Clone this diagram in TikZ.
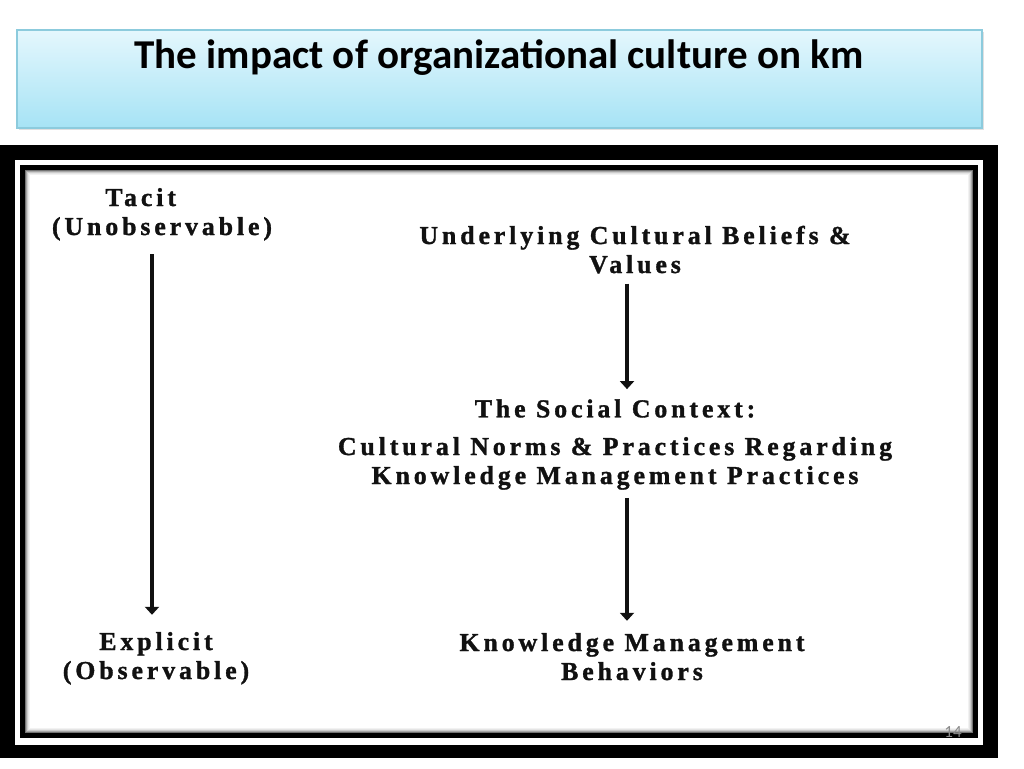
\documentclass[tikz,border=0pt]{standalone}
\usepackage{fontspec}
\usetikzlibrary{arrows.meta}
\newfontfamily\titlefont{Carlito}
\newfontfamily\diagfont{Liberation Serif}[LetterSpace=15,FakeBold=1.2]
\definecolor{boxtop}{HTML}{E4F7FD}
\definecolor{boxbot}{HTML}{A6E3F5}
\definecolor{boxline}{HTML}{8CCBDD}
\definecolor{ink}{HTML}{111111}
\definecolor{pagenum}{HTML}{8A8A8A}
\begin{document}
\begin{tikzpicture}[x=0.75pt,y=-0.75pt,
  lbl/.style={font=\diagfont\bfseries\fontsize{19.4pt}{21.75pt}\selectfont, text=ink, align=center, inner sep=0pt, anchor=base},
  arr/.style={line width=3.6pt, -{Triangle[width=10.5pt,length=6pt]}, draw=ink}]
\useasboundingbox (0,0) rectangle (1024,768);
% title box
\fill[black!12] (19,32) rectangle (984,130);
\shade[top color=boxtop,bottom color=boxbot,draw=boxline,line width=0.9pt] (17,30) rectangle (982,128);
\node[font=\titlefont\bfseries\fontsize{30.75pt}{36pt}\selectfont, anchor=base, inner sep=0pt] (title) at (499,68) {The impact of organizational culture on km};
% frame
\fill[black] (0,145) rectangle (998,758);
\fill[white] (15,160) rectangle (983,745);
\draw[black!55,line width=0.75pt] (25.5,170.5) rectangle (972.5,732.5);
\draw[black!35,line width=0.75pt] (26.5,171.5) rectangle (971.5,731.5);
\draw[black!20,line width=0.75pt] (27.5,172.5) rectangle (970.5,730.5);
\draw[black!10,line width=0.75pt] (28.5,173.5) rectangle (969.5,729.5);
\draw[black!5,line width=0.75pt] (29.5,174.5) rectangle (968.5,728.5);
\draw[black,line width=3.75pt] (22.5,167.5) rectangle (975.5,735.5);
% page number
\node[font=\titlefont\fontsize{12.75pt}{14pt}\selectfont, text=pagenum, inner sep=0pt] (pg) at (953,732.5) {14};
% labels (anchor=base is the baseline of the last line)
\node[lbl] (tacit) at (162,235) {Tacit\hspace*{32pt}\\(Unobservable)};
\node[lbl] (explicit) at (156,679) {Explicit\\(Observable)};
\node[lbl] (beliefs) at (635,273) {Underlying Cultural Beliefs \&\\Values};
\node[lbl] (social) at (615,484) {The Social Context:\\[6.5pt]Cultural Norms \& Practices Regarding\\Knowledge Management Practices};
\node[lbl] (kmb) at (632,680) {Knowledge Management\\Behaviors};
% connectors
\coordinate (lx) at (152,0);
\coordinate (mx) at (627,0);
\draw[arr, shorten <=10pt, shorten >=12.75pt] (tacit.south -| lx) -- (explicit.north -| lx);
\draw[arr, shorten <=7.5pt, shorten >=7.5pt] (beliefs.south -| mx) -- (social.north -| mx);
\draw[arr, shorten <=6pt, shorten >=9pt] (social.south -| mx) -- (kmb.north -| mx);
\end{tikzpicture}
\end{document}
